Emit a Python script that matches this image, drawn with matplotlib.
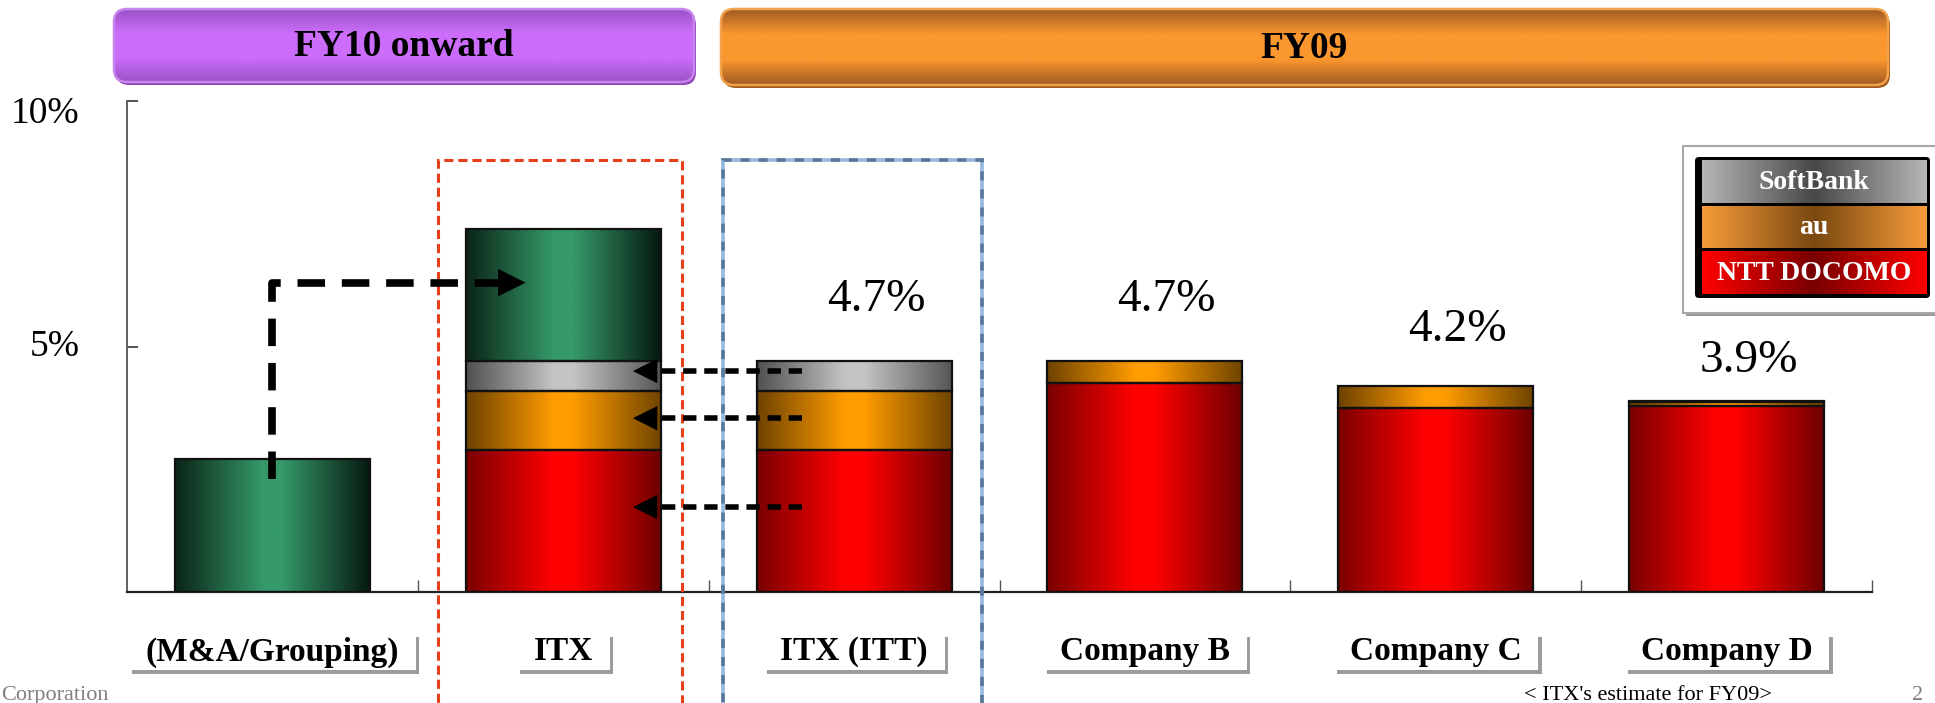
import numpy as np
import matplotlib
matplotlib.use("Agg")
import matplotlib.pyplot as plt
import matplotlib.transforms as mtransforms
from matplotlib.colors import LinearSegmentedColormap
from matplotlib.patches import FancyBboxPatch, Rectangle
from matplotlib.path import Path
import matplotlib.patheffects as pe

# ---------------- data ----------------
categories = ["(M&A/Grouping)", "ITX", "ITX (ITT)", "Company B", "Company C", "Company D"]
docomo = [0.0, 2.9, 2.9, 4.25, 3.75, 3.78]
au = [0.0, 1.2, 1.2, 0.45, 0.45, 0.08]
softbank = [0.0, 0.6, 0.6, 0.0, 0.0, 0.04]
grouping = [2.7, 2.7, 0.0, 0.0, 0.0, 0.0]
total_labels = ["", "", "4.7%", "4.7%", "4.2%", "3.9%"]
ytick_values = [5, 10]
ytick_labels = ["5%", "10%"]
banner_titles = ["FY10 onward", "FY09"]
legend_labels = ["SoftBank", "au", "NTT DOCOMO"]

SERIF = ["Liberation Serif", "DejaVu Serif"]

# ---------------- layout ----------------
W, H = 1935, 703
fig = plt.figure(figsize=(W / 100, H / 100), dpi=100)
ax = fig.add_axes([127 / W, 1 - 592 / H, (1872 - 127) / W, (592 - 101) / H])

x = np.arange(len(categories))
bar_w = 0.67


def cmap3(edge_l, center, edge_r, name):
    return LinearSegmentedColormap.from_list(
        name, [(0, edge_l), (0.45, center), (0.55, center), (1, edge_r)])


cm_red = cmap3("#7a0000", "#ff0000", "#6e0000", "r")
cm_org = cmap3("#6e4200", "#ff9c00", "#704400", "o")
cm_gry = cmap3("#505050", "#c4c4c4", "#565656", "g")
cm_grn = cmap3("#0a2417", "#35996a", "#061910", "gr")

grad = np.linspace(0, 1, 256).reshape(1, -1)


def grad_bars(heights, bottoms, cmap):
    for xi, h, b in zip(x, heights, bottoms):
        if h <= 0:
            continue
        r = ax.bar(xi, h, bar_w, bottom=b, facecolor="none",
                   edgecolor="#111111", linewidth=1.6, zorder=3)[0]
        im = ax.imshow(grad, cmap=cmap, aspect="auto", interpolation="bilinear",
                       extent=[r.get_x(), r.get_x() + r.get_width(),
                               r.get_y(), r.get_y() + r.get_height()],
                       zorder=2.5)
        im.set_clip_path(r)


b0 = np.zeros(len(x))
grad_bars(docomo, b0, cm_red)
b1 = b0 + np.array(docomo)
grad_bars(au, b1, cm_org)
b2 = b1 + np.array(au)
grad_bars(softbank, b2, cm_gry)
b3 = b2 + np.array(softbank)
grad_bars(grouping, b3, cm_grn)

totals = b3
label_offsets = [0, 0, 1.25, 1.25, 1.15, 0.8]
for xi, t, lab, off in zip(x, totals, total_labels, label_offsets):
    if lab:
        ax.text(xi + 0.075, t + off, lab, ha="center", va="center",
                fontsize=34, family=SERIF, zorder=7)

ax.set_xlim(-0.5, 5.5)
ax.set_ylim(0, 10)
for s in ["top", "right"]:
    ax.spines[s].set_visible(False)
ax.spines["left"].set_color("#555555")
ax.spines["left"].set_linewidth(1.3)
ax.spines["bottom"].set_color("#222222")
ax.spines["bottom"].set_linewidth(1.6)
ax.set_yticks(ytick_values)
ax.set_yticklabels(ytick_labels, family=SERIF, fontsize=27)
ax.tick_params(axis="y", direction="in", length=8, width=1.2, pad=34, color="#333333")
# nudge tick labels to where the slide shows them
for lab, dy in zip(ax.get_yticklabels(), [4, -9]):
    lab.set_transform(lab.get_transform() +
                      mtransforms.ScaledTranslation(0, dy / 100, fig.dpi_scale_trans))
ax.set_xticks(np.arange(0.5, 6, 1))
ax.set_xticklabels([])
ax.tick_params(axis="x", direction="in", length=9, width=1, color="#555555")
ax.patch.set_alpha(0)

# dashed highlight boxes
ax.add_patch(Rectangle((1 - 0.43, -3), 0.84, 8.8 + 3, fill=False, edgecolor="#e5401a",
                       linewidth=2.2, linestyle=(0, (3, 1.6)), clip_on=False, zorder=5))
ax.add_patch(Rectangle((2 - 0.45, -3), 0.89, 8.8 + 3, fill=False, edgecolor="#95b8e0",
                       linewidth=2.6, clip_on=False, zorder=5))
ax.add_patch(Rectangle((2 - 0.45, -3), 0.89, 8.8 + 3, fill=False, edgecolor="#5a7699",
                       linewidth=2.6, linestyle=(0, (2.5, 2.5)), clip_on=False, zorder=5))

# arrows
ax.plot([0, 0, 0.79], [2.3, 6.3, 6.3], color="black", lw=5.5,
        linestyle=(0, (3.6, 2.2)), dash_capstyle="butt", zorder=6, clip_on=False)
ax.annotate("", xy=(0.88, 6.3), xytext=(0.78, 6.3),
            arrowprops=dict(arrowstyle="-|>,head_length=1.1,head_width=0.55",
                            color="black", lw=0, mutation_scale=18), zorder=6)
for ya in [4.5, 3.54, 1.73]:
    ax.plot([1.82, 1.30], [ya, ya], color="black", lw=4,
            linestyle=(0, (2.4, 1.4)), dash_capstyle="butt", zorder=6)
    ax.annotate("", xy=(1.23, ya), xytext=(1.31, ya),
                arrowprops=dict(arrowstyle="-|>,head_length=1.1,head_width=0.55",
                                color="black", lw=0, mutation_scale=16), zorder=6)


# category labels with shadowed boxes
def label_box(x0, y0, width, height, mutation_size):
    px = 0.5 * mutation_size
    py = 0.08 * mutation_size
    verts = [(x0 - px, y0 - py), (x0 + width + px, y0 - py),
             (x0 + width + px, y0 + height + py), (x0 - px, y0 + height + py),
             (x0 - px, y0 - py)]
    return Path(verts, closed=True)


for xi, cat in zip(x, categories):
    t = ax.text(xi, -1.22, cat, ha="center", va="center", fontsize=24,
                fontweight="bold", family=SERIF, zorder=6, clip_on=False,
                bbox=dict(boxstyle=label_box, facecolor="white", edgecolor="none"))
    t.get_bbox_patch().set_path_effects(
        [pe.SimplePatchShadow(offset=(2.5, -2.5), shadow_rgbFace="#9c9c9c", alpha=1.0),
         pe.Normal()])

# ---------------- overlay (banners, legend, footer) ----------------
ov = fig.add_axes([0, 0, 1, 1], zorder=10)
ov.patch.set_alpha(0)
ov.axis("off")

vgrad = np.linspace(0, 1, 256).reshape(-1, 1)


def banner(x0, y0, x1, y1, text, edge, center, outline, shadow):
    w, h = x1 - x0, y1 - y0
    ov.add_patch(FancyBboxPatch((x0 + 2, y0 + 3), w, h,
                                boxstyle="round,pad=0,rounding_size=13",
                                facecolor=shadow, edgecolor="none"))
    p = FancyBboxPatch((x0, y0), w, h, boxstyle="round,pad=0,rounding_size=13",
                       facecolor="none", edgecolor=outline, linewidth=1.8, zorder=3)
    ov.add_patch(p)
    cm = LinearSegmentedColormap.from_list("b", [edge, center, center, edge])
    im = ov.imshow(vgrad, cmap=cm, aspect="auto", extent=[x0, x1, y1, y0], zorder=2)
    im.set_clip_path(p)
    ov.text((x0 + x1) / 2, (y0 + y1) / 2 + 1, text, ha="center", va="center",
            fontsize=27, fontweight="bold", family=SERIF, zorder=4)


banner(114, 9, 694, 82, banner_titles[0], "#9a52c6", "#cc6dfb", "#c985ee", "#8e45b8")
banner(721, 9, 1888, 85, banner_titles[1], "#a05a22", "#fa972f", "#f2a24a", "#a15920")

# legend
ov.add_patch(Rectangle((1686, 149), 260, 167, facecolor="#9a9a9a", edgecolor="none", zorder=1))
ov.add_patch(Rectangle((1683, 146), 260, 167, facecolor="white", edgecolor="#a8a8a8",
                       linewidth=1.5, zorder=2))
ov.add_patch(FancyBboxPatch((1695, 157), 235, 141, boxstyle="round,pad=0,rounding_size=4",
                            facecolor="black", edgecolor="none", zorder=3))
leg_cmaps = [
    LinearSegmentedColormap.from_list("l1", ["#b6b6b6", "#484848", "#b6b6b6"]),
    LinearSegmentedColormap.from_list("l2", ["#f79c3a", "#7a4810", "#f79c3a"]),
    LinearSegmentedColormap.from_list("l3", ["#ff0000", "#780000", "#ff0000"]),
]
rows = [(160, 203), (206, 248), (251, 294)]
for (ya, yb), lab, cm in zip(rows, legend_labels, leg_cmaps):
    r = Rectangle((1702, ya), 225, yb - ya, facecolor="none", edgecolor="none", zorder=4)
    ov.add_patch(r)
    im = ov.imshow(grad, cmap=cm, aspect="auto", extent=[1702, 1927, yb, ya], zorder=4)
    im.set_clip_path(r)
    ov.text(1814, (ya + yb) / 2 + 1, lab, ha="center", va="center", color="white",
            fontsize=20, fontweight="bold", family=SERIF, zorder=5)

# footer
ov.text(1, 700, "Corporation", ha="left", va="baseline", fontsize=16, color="#7f7f7f",
        family=SERIF)
ov.text(1524, 700, "< ITX's estimate for FY09>", ha="left", va="baseline", fontsize=16,
        color="black", family=SERIF)
ov.text(1912, 700, "2", ha="left", va="baseline", fontsize=16, color="#7f7f7f",
        family=SERIF)

ov.set_xlim(0, W)
ov.set_ylim(H, 0)
ax.set_xlim(-0.5, 5.5)
ax.set_ylim(0, 10)

fig.savefig("out.png", dpi=100)
